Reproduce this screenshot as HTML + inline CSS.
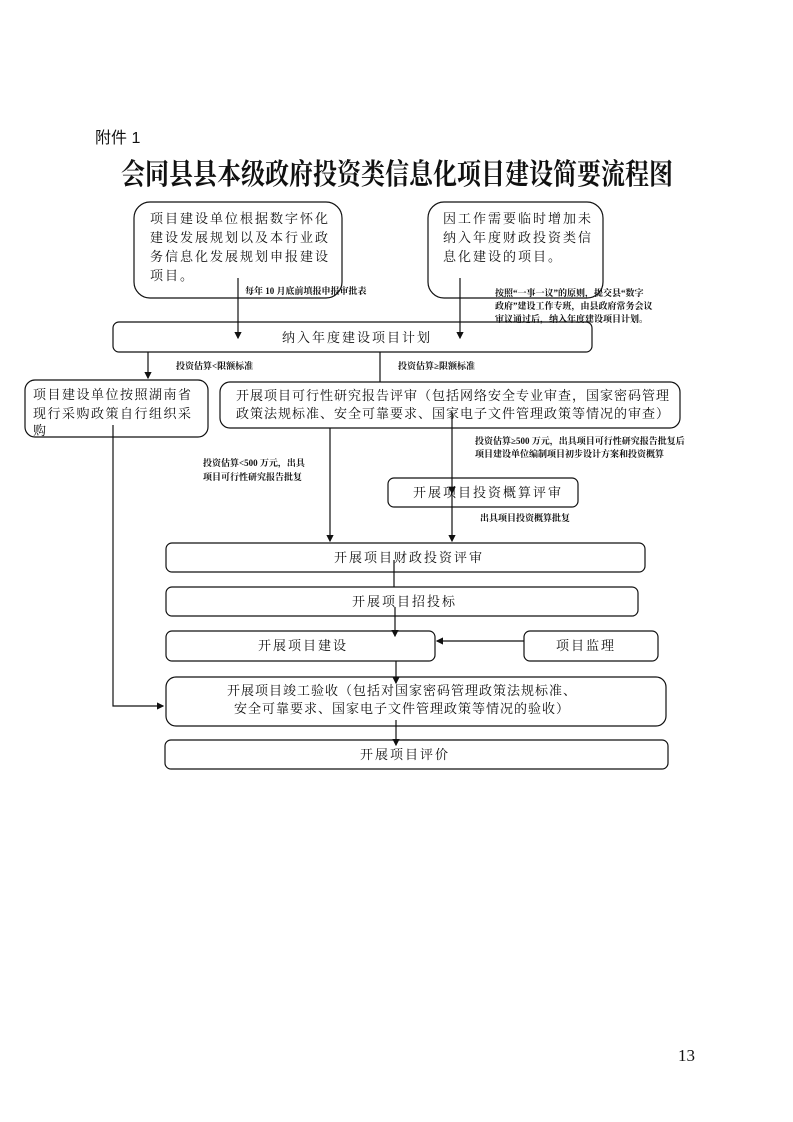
<!DOCTYPE html>
<html><head><meta charset="utf-8"><style>
body{margin:0;background:#fff;}
svg{display:block;}
text{font-family:"Liberation Serif","Noto Serif CJK SC","Noto Sans CJK SC",serif;fill:#111;}
.t{font-size:13px;letter-spacing:2px;}
.s{font-size:9px;font-weight:bold;}
</style></head><body>
<svg width="793" height="1122" viewBox="0 0 793 1122" xmlns="http://www.w3.org/2000/svg">
<defs><marker id="a" markerWidth="6" markerHeight="6" refX="5" refY="3" orient="auto"><path d="M0,0 L6,3 L0,6 z" fill="#111"/></marker></defs>
<text x="95" y="143" style="font-family:'Liberation Sans','Noto Sans CJK SC',sans-serif;font-size:16px">附件 1</text>
<text x="121" y="184" style="font-size:29px;font-weight:bold;" textLength="552" lengthAdjust="spacingAndGlyphs">会同县县本级政府投资类信息化项目建设简要流程图</text>
<g fill="none" stroke="#111" stroke-width="1.2">
<rect x="134" y="202" width="208" height="96" rx="16"/>
<rect x="428" y="202" width="175" height="96" rx="16"/>
<rect x="113" y="322" width="479" height="30" rx="6"/>
<rect x="25" y="380" width="183" height="57" rx="10"/>
<rect x="220" y="382" width="460" height="46" rx="10"/>
<rect x="388" y="478" width="190" height="29" rx="6"/>
<rect x="166" y="543" width="479" height="29" rx="6"/>
<rect x="166" y="587" width="472" height="29" rx="6"/>
<rect x="166" y="631" width="269" height="30" rx="6"/>
<rect x="524" y="631" width="134" height="30" rx="6"/>
<rect x="166" y="677" width="500" height="49" rx="10"/>
<rect x="165" y="740" width="503" height="29" rx="6"/>
<line x1="238" y1="278" x2="238" y2="338" marker-end="url(#a)"/>
<line x1="460" y1="278" x2="460" y2="338" marker-end="url(#a)"/>
<line x1="148" y1="352" x2="148" y2="378" marker-end="url(#a)"/>
<line x1="380" y1="352" x2="380" y2="382"/>
<polyline points="113,425 113,706 163,706" marker-end="url(#a)"/>
<line x1="330" y1="428" x2="330" y2="541" marker-end="url(#a)"/>
<line x1="452" y1="412" x2="452" y2="493" marker-end="url(#a)"/>
<line x1="452" y1="493" x2="452" y2="541" marker-end="url(#a)"/>
<line x1="394" y1="560" x2="394" y2="587"/>
<line x1="395" y1="607" x2="395" y2="636" marker-end="url(#a)"/>
<line x1="524" y1="641" x2="437" y2="641" marker-end="url(#a)"/>
<line x1="396" y1="661" x2="396" y2="683" marker-end="url(#a)"/>
<line x1="396" y1="720" x2="396" y2="745" marker-end="url(#a)"/>
</g>
<text class="t" x="150" y="223">项目建设单位根据数字怀化</text>
<text class="t" x="150" y="242">建设发展规划以及本行业政</text>
<text class="t" x="150" y="261">务信息化发展规划申报建设</text>
<text class="t" x="150" y="280">项目。</text>
<text class="t" x="443" y="223">因工作需要临时增加未</text>
<text class="t" x="443" y="242">纳入年度财政投资类信</text>
<text class="t" x="443" y="261">息化建设的项目。</text>
<text class="s" x="245" y="294">每年 10 月底前填报申报审批表</text>
<text class="s" x="495" y="296">按照“一事一议”的原则，提交县“数字</text>
<text class="s" x="495" y="309">政府”建设工作专班，由县政府常务会议</text>
<text class="s" x="495" y="322">审议通过后，纳入年度建设项目计划。</text>
<text class="t" x="282" y="342">纳入年度建设项目计划</text>
<text class="s" x="176" y="369">投资估算&lt;限额标准</text>
<text class="s" x="398" y="369">投资估算≥限额标准</text>
<text class="t" x="33" y="399" style="letter-spacing:1.5px">项目建设单位按照湖南省</text>
<text class="t" x="33" y="418" style="letter-spacing:1.5px">现行采购政策自行组织采</text>
<text class="t" x="33" y="435">购</text>
<text class="t" x="236" y="400" style="letter-spacing:1px">开展项目可行性研究报告评审（包括网络安全专业审查，国家密码管理</text>
<text class="t" x="236" y="418" style="letter-spacing:1px">政策法规标准、安全可靠要求、国家电子文件管理政策等情况的审查）</text>
<text class="s" x="475" y="444">投资估算≥500 万元，出具项目可行性研究报告批复后</text>
<text class="s" x="475" y="457">项目建设单位编制项目初步设计方案和投资概算</text>
<text class="s" x="203" y="466">投资估算&lt;500 万元，出具</text>
<text class="s" x="203" y="480">项目可行性研究报告批复</text>
<text class="t" x="413" y="497">开展项目投资概算评审</text>
<text class="s" x="480" y="521">出具项目投资概算批复</text>
<text class="t" x="334" y="562">开展项目财政投资评审</text>
<text class="t" x="352" y="606">开展项目招投标</text>
<text class="t" x="258" y="650">开展项目建设</text>
<text class="t" x="556" y="650">项目监理</text>
<text class="t" x="227" y="695" style="letter-spacing:1px">开展项目竣工验收（包括对国家密码管理政策法规标准、</text>
<text class="t" x="234" y="713" style="letter-spacing:1px">安全可靠要求、国家电子文件管理政策等情况的验收）</text>
<text class="t" x="360" y="759">开展项目评价</text>
<text x="678" y="1061" style="font-size:17px">13</text>
</svg>
</body></html>
